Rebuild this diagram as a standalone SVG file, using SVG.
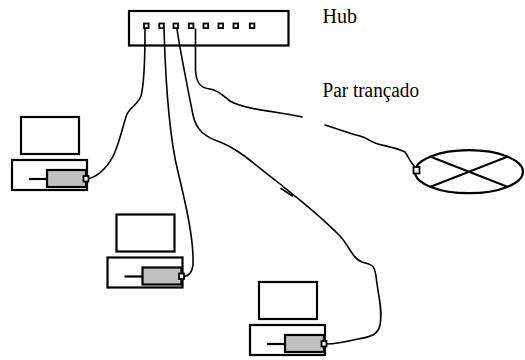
<svg xmlns="http://www.w3.org/2000/svg" width="525" height="360" viewBox="0 0 525 360">
  <defs>
    <style>
      .box { fill: #fff; stroke: #000; stroke-width: 2.2; }
      .port { fill: #fff; stroke: #000; stroke-width: 1.8; }
      .drive { fill: #c0c0c0; stroke: #000; stroke-width: 2.2; }
      .cable { fill: none; stroke: #000; stroke-width: 1.6; stroke-linejoin: round; stroke-linecap: round; }
      .label { font-family: "Liberation Serif", "Times New Roman", serif; font-size: 20px; fill: #000; }
    </style>
    <!-- desktop computer: monitor, case, drive bay and network socket -->
    <g id="pc">
      <rect class="box" x="21" y="117" width="58" height="37"/>
      <rect class="box" x="12" y="160" width="75" height="30"/>
      <line x1="29" y1="179" x2="47" y2="179" stroke="#000" stroke-width="2.2"/>
      <rect class="drive" x="47" y="170" width="39" height="17"/>
      <rect class="port" x="83.5" y="176" width="5" height="5.5"/>
    </g>
  </defs>

  <rect width="525" height="360" fill="#fff"/>

  <!-- hub -->
  <g id="hub">
    <rect class="box" x="129" y="11" width="159.5" height="34.5"/>
    <rect class="port" x="144" y="23.5" width="4.6" height="4.6"/>
    <rect class="port" x="159.3" y="23.5" width="4.6" height="4.6"/>
    <rect class="port" x="173.5" y="23.5" width="4.6" height="4.6"/>
    <rect class="port" x="188.8" y="23.5" width="4.6" height="4.6"/>
    <rect class="port" x="203.5" y="23.5" width="4.6" height="4.6"/>
    <rect class="port" x="218.5" y="23.5" width="4.6" height="4.6"/>
    <rect class="port" x="233.5" y="23.5" width="4.6" height="4.6"/>
    <rect class="port" x="249.8" y="23.5" width="4.6" height="4.6"/>
  </g>

  <!-- cables -->
  <g id="connectors">
    <path class="cable" d="M145,29 C145,55 144,85 141,96 C138,104 130,108 127,114 C124,122 120,140 115,152 C110,164 100,176 89,178.5"/>
    <path class="cable" d="M164,29 C165.5,80 170,140 178,172 C186,205 194,240 193,265 C192,272 190,275 184.5,276.5"/>
    <path class="cable" d="M177,29 C180,50 188,90 193,115 C196,130 205,137 220,142 C240,150 255,165 275,180 C300,200 320,215 340,236 C350,247 352,258 362,262 C372,265 374,264 376,276 C378,295 383,310 380,325 C378,335 370,337 358,339 C345,342 335,344 327,344"/>
    <path class="cable" d="M281,188.5 L292.5,196" stroke-width="2.6"/>
    <path class="cable" d="M195.5,29 L195.5,70 C196,82 200,88 210,89 C218,90 222,95 230,101 C240,107 260,110 280,113 C290,114.5 297,116 302,117"/>
    <path class="cable" d="M325,125 C335,128 345,132 360,136 C368,138 370,142 378,144 C390,147 400,149 405,152 C408,156 410,162 415,167"/>
  </g>

  <!-- workstations -->
  <g id="pc1"><use href="#pc"/></g>
  <g id="pc2"><use href="#pc" transform="translate(95.5,97.5)"/></g>
  <g id="pc3"><use href="#pc" transform="translate(238,165)"/></g>

  <!-- network device (ellipse with cross) -->
  <g id="device">
    <ellipse class="box" cx="469" cy="171.7" rx="54" ry="21.5"/>
    <line x1="430" y1="156.5" x2="508" y2="187" stroke="#000" stroke-width="2"/>
    <line x1="430" y1="187" x2="508" y2="156.5" stroke="#000" stroke-width="2"/>
    <rect class="port" x="413.5" y="167" width="6" height="6.5"/>
  </g>

  <!-- labels -->
  <g id="labels">
    <text class="label" x="322.5" y="23.3">Hub</text>
    <text class="label" x="322.5" y="96.7" textLength="96.5" lengthAdjust="spacingAndGlyphs">Par trançado</text>
  </g>
</svg>
